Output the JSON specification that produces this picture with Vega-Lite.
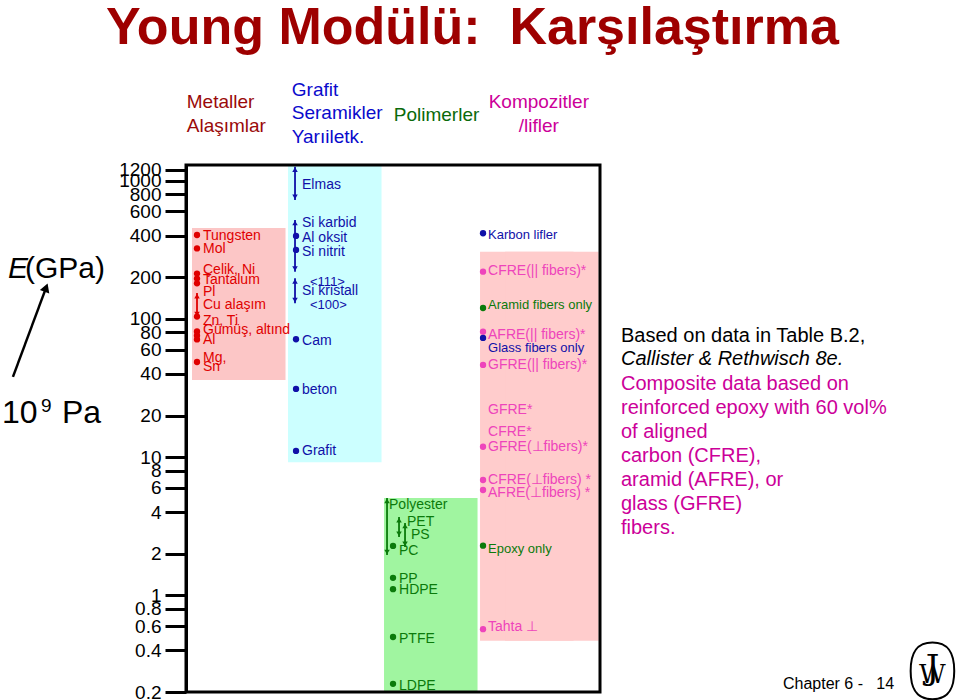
{
"$schema": "https://vega.github.io/schema/vega-lite/v6.json",
"width": 414, "height": 527,
"autosize": {"type": "none"},
"padding": {"left": 186, "top": 165, "right": 360, "bottom": 8},
"background": "white",
"config": {"view": {"stroke": null}, "font": "Liberation Sans", "text": {"font": "Liberation Sans"}},
"data": {"values": [{}]},
"datasets": {
 "boxes": [
  {"group": "Metaller", "lo": 36.2, "hi": 456},
  {"group": "Seramikler", "lo": 9.2, "hi": 1300},
  {"group": "Polimerler", "lo": 0.2, "hi": 5.07},
  {"group": "Kompozitler", "lo": 0.47, "hi": 307}
 ],
 "ranges": [
  {"group": "Metaller", "cls": "metal", "name": "Cu alaşım", "lo": 103, "hi": 154, "lane": 0},
  {"group": "Seramikler", "cls": "ceramic", "name": "Elmas", "lo": 726, "hi": 1265, "lane": 0},
  {"group": "Seramikler", "cls": "ceramic", "name": "Si karbid", "lo": 220, "hi": 520, "lane": 0},
  {"group": "Seramikler", "cls": "ceramic", "name": "Si kristall", "lo": 130, "hi": 197, "lane": 0},
  {"group": "Polimerler", "cls": "polymer", "name": "Polyester", "lo": 1.96, "hi": 5.07, "lane": -1},
  {"group": "Polimerler", "cls": "polymer", "name": "PET", "lo": 2.65, "hi": 3.69, "lane": 1},
  {"group": "Polimerler", "cls": "polymer", "name": "PS", "lo": 2.24, "hi": 3.34, "lane": 2}
 ],
 "points": [
  {"group": "Metaller", "cls": "metal", "name": "Tungsten", "E": 405},
  {"group": "Metaller", "cls": "metal", "name": "Mol", "E": 324},
  {"group": "Metaller", "cls": "metal", "name": "Çelik, Ni", "E": 213},
  {"group": "Metaller", "cls": "metal", "name": "Tantalum", "E": 196},
  {"group": "Metaller", "cls": "metal", "name": "Pl", "E": 181},
  {"group": "Metaller", "cls": "metal", "name": "Zn, Ti", "E": 104},
  {"group": "Metaller", "cls": "metal", "name": "Gümüş", "E": 81.2},
  {"group": "Metaller", "cls": "metal", "name": "Altın", "E": 75.9},
  {"group": "Metaller", "cls": "metal", "name": "Al", "E": 71.1},
  {"group": "Metaller", "cls": "metal", "name": "Mg, Sn", "E": 48.8},
  {"group": "Seramikler", "cls": "ceramic", "name": "Al oksit", "E": 399},
  {"group": "Seramikler", "cls": "ceramic", "name": "Si nitrit", "E": 316},
  {"group": "Seramikler", "cls": "ceramic", "name": "Cam", "E": 71.3},
  {"group": "Seramikler", "cls": "ceramic", "name": "beton", "E": 31.2},
  {"group": "Seramikler", "cls": "ceramic", "name": "Grafit", "E": 11.1},
  {"group": "Polimerler", "cls": "polymer", "name": "PC", "E": 2.28},
  {"group": "Polimerler", "cls": "polymer", "name": "PP", "E": 1.34},
  {"group": "Polimerler", "cls": "polymer", "name": "HDPE", "E": 1.11},
  {"group": "Polimerler", "cls": "polymer", "name": "PTFE", "E": 0.5},
  {"group": "Polimerler", "cls": "polymer", "name": "LDPE", "E": 0.229},
  {"group": "Kompozitler", "cls": "ceramic", "name": "Karbon lifler", "E": 417},
  {"group": "Kompozitler", "cls": "composite", "name": "CFRE par", "E": 220},
  {"group": "Kompozitler", "cls": "polymer", "name": "Aramid fibers", "E": 120},
  {"group": "Kompozitler", "cls": "composite", "name": "AFRE par", "E": 80.9},
  {"group": "Kompozitler", "cls": "ceramic", "name": "Glass fibers", "E": 72.9},
  {"group": "Kompozitler", "cls": "composite", "name": "GFRE par", "E": 46.5},
  {"group": "Kompozitler", "cls": "composite", "name": "GFRE perp", "E": 11.9},
  {"group": "Kompozitler", "cls": "composite", "name": "CFRE perp", "E": 6.84},
  {"group": "Kompozitler", "cls": "composite", "name": "AFRE perp", "E": 5.79},
  {"group": "Kompozitler", "cls": "polymer", "name": "Epoxy", "E": 2.29},
  {"group": "Kompozitler", "cls": "composite", "name": "Tahta", "E": 0.57}
 ],
 "labels": [
  {"group": "Metaller", "cls": "metal", "text": "Tungsten", "E": 399, "kind": "main", "indent": 0},
  {"group": "Metaller", "cls": "metal", "text": "Mol", "E": 321, "kind": "main", "indent": 0},
  {"group": "Metaller", "cls": "metal", "text": "Çelik, Ni", "E": 226, "kind": "main", "indent": 0},
  {"group": "Metaller", "cls": "metal", "text": "Tantalum", "E": 190, "kind": "main", "indent": 0},
  {"group": "Metaller", "cls": "metal", "text": "Pl", "E": 157, "kind": "main", "indent": 0},
  {"group": "Metaller", "cls": "metal", "text": "Cu alaşım", "E": 126, "kind": "main", "indent": 0},
  {"group": "Metaller", "cls": "metal", "text": "Zn, Ti", "E": 96.7, "kind": "main", "indent": 0},
  {"group": "Metaller", "cls": "metal", "text": "Gümüş, altınd", "E": 82.6, "kind": "main", "indent": 0},
  {"group": "Metaller", "cls": "metal", "text": "Al", "E": 69.9, "kind": "main", "indent": 0},
  {"group": "Metaller", "cls": "metal", "text": "Mg,", "E": 52.2, "kind": "main", "indent": 0},
  {"group": "Metaller", "cls": "metal", "text": "Sn", "E": 44.9, "kind": "main", "indent": 0},
  {"group": "Seramikler", "cls": "ceramic", "text": "Elmas", "E": 933, "kind": "main", "indent": 0},
  {"group": "Seramikler", "cls": "ceramic", "text": "Si karbid", "E": 498, "kind": "main", "indent": 0},
  {"group": "Seramikler", "cls": "ceramic", "text": "Al oksit", "E": 384, "kind": "main", "indent": 0},
  {"group": "Seramikler", "cls": "ceramic", "text": "Si nitrit", "E": 307, "kind": "main", "indent": 0},
  {"group": "Seramikler", "cls": "ceramic", "text": "<111>", "E": 186, "kind": "small", "indent": 2},
  {"group": "Seramikler", "cls": "ceramic", "text": "Si kristall", "E": 160, "kind": "main", "indent": 0},
  {"group": "Seramikler", "cls": "ceramic", "text": "<100>", "E": 126, "kind": "small", "indent": 2},
  {"group": "Seramikler", "cls": "ceramic", "text": "Cam", "E": 69.7, "kind": "main", "indent": 0},
  {"group": "Seramikler", "cls": "ceramic", "text": "beton", "E": 30.6, "kind": "main", "indent": 0},
  {"group": "Seramikler", "cls": "ceramic", "text": "Grafit", "E": 11.1, "kind": "main", "indent": 0},
  {"group": "Polimerler", "cls": "polymer", "text": "Polyester", "E": 4.51, "kind": "main", "indent": -2.5},
  {"group": "Polimerler", "cls": "polymer", "text": "PET", "E": 3.42, "kind": "main", "indent": 2},
  {"group": "Polimerler", "cls": "polymer", "text": "PS", "E": 2.74, "kind": "main", "indent": 3},
  {"group": "Polimerler", "cls": "polymer", "text": "PC", "E": 2.11, "kind": "main", "indent": 0},
  {"group": "Polimerler", "cls": "polymer", "text": "PP", "E": 1.31, "kind": "main", "indent": 0},
  {"group": "Polimerler", "cls": "polymer", "text": "HDPE", "E": 1.09, "kind": "main", "indent": 0},
  {"group": "Polimerler", "cls": "polymer", "text": "PTFE", "E": 0.48, "kind": "main", "indent": 0},
  {"group": "Polimerler", "cls": "polymer", "text": "LDPE", "E": 0.221, "kind": "main", "indent": 0},
  {"group": "Kompozitler", "cls": "ceramic", "text": "Karbon  lifler", "E": 405, "kind": "small", "indent": 0},
  {"group": "Kompozitler", "cls": "composite", "text": "CFRE(|| fibers)*", "E": 223, "kind": "main", "indent": 0},
  {"group": "Kompozitler", "cls": "polymer", "text": "Aramid fibers only", "E": 126, "kind": "small", "indent": 0},
  {"group": "Kompozitler", "cls": "composite", "text": "AFRE(|| fibers)*", "E": 76.6, "kind": "main", "indent": 0},
  {"group": "Kompozitler", "cls": "ceramic", "text": "Glass fibers only", "E": 62, "kind": "small", "indent": 0},
  {"group": "Kompozitler", "cls": "composite", "text": "GFRE(|| fibers)*", "E": 46.5, "kind": "main", "indent": 0},
  {"group": "Kompozitler", "cls": "composite", "text": "GFRE*", "E": 22, "kind": "main", "indent": 0},
  {"group": "Kompozitler", "cls": "composite", "text": "CFRE*", "E": 15.1, "kind": "main", "indent": 0},
  {"group": "Kompozitler", "cls": "composite", "text": "GFRE(⊥fibers)*", "E": 11.9, "kind": "main", "indent": 0},
  {"group": "Kompozitler", "cls": "composite", "text": "CFRE(⊥fibers) *", "E": 6.84, "kind": "main", "indent": 0},
  {"group": "Kompozitler", "cls": "composite", "text": "AFRE(⊥fibers) *", "E": 5.54, "kind": "main", "indent": 0},
  {"group": "Kompozitler", "cls": "polymer", "text": "Epoxy only", "E": 2.16, "kind": "small", "indent": 0},
  {"group": "Kompozitler", "cls": "composite", "text": "Tahta  ⊥", "E": 0.59, "kind": "main", "indent": 0}
 ]
},
"layer": [
 {"layer": [
  {"data": {"name": "boxes"}, "mark": {"type": "rect"},
   "encoding": {
    "x": {"field": "group", "type": "nominal", "scale": {"domain": ["Metaller","Seramikler","Polimerler","Kompozitler"], "paddingInner": 0.026, "paddingOuter": 0.169, "align": 0.185}, "axis": null},
    "y": {"field": "lo", "type": "quantitative", "scale": {"type": "log", "domain": [0.2, 1300]},
      "axis": {"values": [0.2,0.4,0.6,0.8,1,2,4,6,8,10,20,40,60,80,100,200,400,600,800,1000,1200], "format": "~g", "tickSize": 21, "tickWidth": 3, "tickColor": "black", "domainColor": "black", "domainWidth": 3, "labelFontSize": 19, "labelFont": "Liberation Sans", "labelColor": "black", "labelPadding": 4, "labelOverlap": false, "labelFlush": false, "grid": false, "title": null, "zindex": 1}},
    "y2": {"field": "hi"},
    "fill": {"field": "group", "type": "nominal", "scale": {"domain": ["Metaller","Seramikler","Polimerler","Kompozitler"], "range": ["#FCC6C6","#CCFFFF","#A0F5A0","#FFCCCC"]}, "legend": null}
   }},
  {"data": {"name": "boxes"}, "transform": [{"filter": "datum.group === 'Kompozitler'"}], "mark": {"type": "rect", "xOffset": 25},
   "encoding": {
    "x": {"field": "group", "type": "nominal", "scale": {"domain": ["Metaller","Seramikler","Polimerler","Kompozitler"], "paddingInner": 0.026, "paddingOuter": 0.169, "align": 0.185}, "axis": null},
    "y": {"field": "lo", "type": "quantitative", "scale": {"type": "log", "domain": [0.2, 1300]}},
    "y2": {"field": "hi"},
    "fill": {"field": "group", "type": "nominal", "scale": {"domain": ["Metaller","Seramikler","Polimerler","Kompozitler"], "range": ["#FCC6C6","#CCFFFF","#A0F5A0","#FFCCCC"]}, "legend": null}
   }},
  {"data": {"name": "ranges"},
   "mark": {"type": "rule", "strokeWidth": 1.8, "xOffset": {"expr": "(datum.group === 'Metaller' ? 5 : datum.group === 'Seramikler' ? 7 : datum.group === 'Polimerler' ? 9 : 3) + 6 * datum.lane"}},
   "encoding": {
    "x": {"field": "group", "type": "nominal", "bandPosition": 0, "scale": {"domain": ["Metaller","Seramikler","Polimerler","Kompozitler"], "paddingInner": 0.026, "paddingOuter": 0.169, "align": 0.185}, "axis": null},
    "y": {"field": "lo", "type": "quantitative", "scale": {"type": "log", "domain": [0.2, 1300]}},
    "y2": {"field": "hi"},
    "color": {"field": "cls", "type": "nominal", "scale": {"domain": ["metal","ceramic","polymer","composite"], "range": ["#E00000","#1010A8","#0B7A0B","#EE44BB"]}, "legend": null}
   }},
  {"data": {"name": "ranges"},
   "mark": {"type": "point", "shape": "triangle-up", "filled": true, "opacity": 1, "size": 30, "yOffset": 3, "xOffset": {"expr": "(datum.group === 'Metaller' ? 5 : datum.group === 'Seramikler' ? 7 : datum.group === 'Polimerler' ? 9 : 3) + 6 * datum.lane"}},
   "encoding": {
    "x": {"field": "group", "type": "nominal", "bandPosition": 0, "scale": {"domain": ["Metaller","Seramikler","Polimerler","Kompozitler"], "paddingInner": 0.026, "paddingOuter": 0.169, "align": 0.185}, "axis": null},
    "y": {"field": "hi", "type": "quantitative", "scale": {"type": "log", "domain": [0.2, 1300]}},
    "color": {"field": "cls", "type": "nominal", "scale": {"domain": ["metal","ceramic","polymer","composite"], "range": ["#E00000","#1010A8","#0B7A0B","#EE44BB"]}, "legend": null}
   }},
  {"data": {"name": "ranges"},
   "mark": {"type": "point", "shape": "triangle-down", "filled": true, "opacity": 1, "size": 30, "yOffset": -3, "xOffset": {"expr": "(datum.group === 'Metaller' ? 5 : datum.group === 'Seramikler' ? 7 : datum.group === 'Polimerler' ? 9 : 3) + 6 * datum.lane"}},
   "encoding": {
    "x": {"field": "group", "type": "nominal", "bandPosition": 0, "scale": {"domain": ["Metaller","Seramikler","Polimerler","Kompozitler"], "paddingInner": 0.026, "paddingOuter": 0.169, "align": 0.185}, "axis": null},
    "y": {"field": "lo", "type": "quantitative", "scale": {"type": "log", "domain": [0.2, 1300]}},
    "color": {"field": "cls", "type": "nominal", "scale": {"domain": ["metal","ceramic","polymer","composite"], "range": ["#E00000","#1010A8","#0B7A0B","#EE44BB"]}, "legend": null}
   }},
  {"data": {"name": "points"},
   "mark": {"type": "point", "shape": "circle", "filled": true, "opacity": 1, "size": 40, "xOffset": {"expr": "datum.group === 'Metaller' ? 5 : datum.group === 'Seramikler' ? 8 : datum.group === 'Polimerler' ? 9 : 3"}},
   "encoding": {
    "x": {"field": "group", "type": "nominal", "bandPosition": 0, "scale": {"domain": ["Metaller","Seramikler","Polimerler","Kompozitler"], "paddingInner": 0.026, "paddingOuter": 0.169, "align": 0.185}, "axis": null},
    "y": {"field": "E", "type": "quantitative", "scale": {"type": "log", "domain": [0.2, 1300]}},
    "color": {"field": "cls", "type": "nominal", "scale": {"domain": ["metal","ceramic","polymer","composite"], "range": ["#E00000","#1010A8","#0B7A0B","#EE44BB"]}, "legend": null}
   }},
  {"data": {"name": "labels"},
   "mark": {"type": "text", "align": "left", "baseline": "middle", "font": "Liberation Sans", "dx": {"expr": "(datum.group === 'Metaller' ? 11 : datum.group === 'Seramikler' ? 14 : datum.group === 'Polimerler' ? 15 : 8) + 4 * datum.indent"}},
   "encoding": {
    "x": {"field": "group", "type": "nominal", "bandPosition": 0, "scale": {"domain": ["Metaller","Seramikler","Polimerler","Kompozitler"], "paddingInner": 0.026, "paddingOuter": 0.169, "align": 0.185}, "axis": null},
    "y": {"field": "E", "type": "quantitative", "scale": {"type": "log", "domain": [0.2, 1300]}},
    "text": {"field": "text"},
    "size": {"field": "kind", "type": "ordinal", "scale": {"domain": ["main","small"], "range": [14, 13]}, "legend": null},
    "color": {"field": "cls", "type": "nominal", "scale": {"domain": ["metal","ceramic","polymer","composite"], "range": ["#E00000","#1010A8","#0B7A0B","#EE44BB"]}, "legend": null}
   }},
  {"mark": {"type": "text", "text": ["Metaller", "Alaşımlar"], "lineHeight": 24, "fontSize": 19, "color": "#9A0A0A", "align": "left", "baseline": "middle", "dx": -52},
   "encoding": {
    "x": {"datum": "Metaller", "type": "nominal", "scale": {"domain": ["Metaller","Seramikler","Polimerler","Kompozitler"], "paddingInner": 0.026, "paddingOuter": 0.169, "align": 0.185}, "axis": null},
    "y": {"datum": 3718, "type": "quantitative", "scale": {"type": "log", "domain": [0.2, 1300]}}
   }},
  {"mark": {"type": "text", "text": ["Grafit", "Seramikler", "Yarıiletk."], "lineHeight": 23.5, "fontSize": 19, "color": "#0A0ACC", "align": "left", "baseline": "middle", "dx": -43},
   "encoding": {
    "x": {"datum": "Seramikler", "type": "nominal", "scale": {"domain": ["Metaller","Seramikler","Polimerler","Kompozitler"], "paddingInner": 0.026, "paddingOuter": 0.169, "align": 0.185}, "axis": null},
    "y": {"datum": 4540, "type": "quantitative", "scale": {"type": "log", "domain": [0.2, 1300]}}
   }},
  {"mark": {"type": "text", "text": "Polimerler", "fontSize": 19, "color": "#0A6A0A", "align": "left", "baseline": "middle", "dx": -37},
   "encoding": {
    "x": {"datum": "Polimerler", "type": "nominal", "scale": {"domain": ["Metaller","Seramikler","Polimerler","Kompozitler"], "paddingInner": 0.026, "paddingOuter": 0.169, "align": 0.185}, "axis": null},
    "y": {"datum": 2993, "type": "quantitative", "scale": {"type": "log", "domain": [0.2, 1300]}}
   }},
  {"mark": {"type": "text", "text": ["Kompozitler", "/lifler"], "lineHeight": 24, "fontSize": 19, "color": "#CC0099", "align": "center", "baseline": "middle", "dx": 12},
   "encoding": {
    "x": {"datum": "Kompozitler", "type": "nominal", "scale": {"domain": ["Metaller","Seramikler","Polimerler","Kompozitler"], "paddingInner": 0.026, "paddingOuter": 0.169, "align": 0.185}, "axis": null},
    "y": {"datum": 3718, "type": "quantitative", "scale": {"type": "log", "domain": [0.2, 1300]}}
   }}
 ]},
 {"layer": [
  {"mark": {"type": "rect", "fillOpacity": 0, "stroke": "black", "strokeWidth": 3},
   "encoding": {
    "x": {"datum": 0, "type": "quantitative", "scale": {"domain": [0, 1]}, "axis": null},
    "x2": {"datum": 1},
    "y": {"datum": 0.2, "type": "quantitative", "scale": {"type": "log", "domain": [0.2, 1300]}},
    "y2": {"datum": 1300}
   }},
  {"mark": {"type": "text", "text": "Young Modülü:\u00a0 Karşılaştırma", "fontSize": 52, "fontWeight": "bold", "color": "#9E0000", "align": "center", "baseline": "alphabetic"},
   "encoding": {
    "x": {"datum": 0.692, "type": "quantitative", "scale": {"domain": [0, 1]}, "axis": null},
    "y": {"datum": 9770, "type": "quantitative", "scale": {"type": "log", "domain": [0.2, 1300]}}
   }},
  {"mark": {"type": "text", "text": "E", "fontSize": 30, "fontStyle": "italic", "color": "black", "align": "left", "baseline": "alphabetic"},
   "encoding": {
    "x": {"datum": -0.43, "type": "quantitative", "scale": {"domain": [0, 1]}, "axis": null},
    "y": {"datum": 198, "type": "quantitative", "scale": {"type": "log", "domain": [0.2, 1300]}}
   }},
  {"mark": {"type": "text", "text": "(GPa)", "fontSize": 30, "color": "black", "align": "left", "baseline": "alphabetic"},
   "encoding": {
    "x": {"datum": -0.389, "type": "quantitative", "scale": {"domain": [0, 1]}, "axis": null},
    "y": {"datum": 198, "type": "quantitative", "scale": {"type": "log", "domain": [0.2, 1300]}}
   }},
  {"mark": {"type": "text", "text": "10", "fontSize": 32, "color": "black", "align": "left", "baseline": "alphabetic"},
   "encoding": {
    "x": {"datum": -0.4444, "type": "quantitative", "scale": {"domain": [0, 1]}, "axis": null},
    "y": {"datum": 17.7, "type": "quantitative", "scale": {"type": "log", "domain": [0.2, 1300]}}
   }},
  {"mark": {"type": "text", "text": "9", "fontSize": 19, "color": "black", "align": "left", "baseline": "alphabetic"},
   "encoding": {
    "x": {"datum": -0.3502, "type": "quantitative", "scale": {"domain": [0, 1]}, "axis": null},
    "y": {"datum": 21.2, "type": "quantitative", "scale": {"type": "log", "domain": [0.2, 1300]}}
   }},
  {"mark": {"type": "text", "text": "Pa", "fontSize": 32, "color": "black", "align": "left", "baseline": "alphabetic"},
   "encoding": {
    "x": {"datum": -0.2995, "type": "quantitative", "scale": {"domain": [0, 1]}, "axis": null},
    "y": {"datum": 17.7, "type": "quantitative", "scale": {"type": "log", "domain": [0.2, 1300]}}
   }},
  {"mark": {"type": "rule", "color": "black", "strokeWidth": 2.5},
   "encoding": {
    "x": {"datum": -0.418, "type": "quantitative", "scale": {"domain": [0, 1]}, "axis": null},
    "x2": {"datum": -0.3379},
    "y": {"datum": 38.1, "type": "quantitative", "scale": {"type": "log", "domain": [0.2, 1300]}},
    "y2": {"datum": 168.5}
   }},
  {"mark": {"type": "point", "shape": "triangle-up", "filled": true, "opacity": 1, "color": "black", "size": 100, "angle": 20.4},
   "encoding": {
    "x": {"datum": -0.3379, "type": "quantitative", "scale": {"domain": [0, 1]}, "axis": null},
    "y": {"datum": 168.5, "type": "quantitative", "scale": {"type": "log", "domain": [0.2, 1300]}}
   }},
  {"mark": {"type": "text", "text": "Based on data in Table B.2,", "fontSize": 20, "color": "black", "align": "left", "baseline": "alphabetic"},
   "encoding": {
    "x": {"datum": 1.0507, "type": "quantitative", "scale": {"domain": [0, 1]}, "axis": null},
    "y": {"datum": 68.2, "type": "quantitative", "scale": {"type": "log", "domain": [0.2, 1300]}}
   }},
  {"mark": {"type": "text", "text": "Callister & Rethwisch 8e.", "fontSize": 20, "fontStyle": "italic", "color": "black", "align": "left", "baseline": "alphabetic"},
   "encoding": {
    "x": {"datum": 1.0507, "type": "quantitative", "scale": {"domain": [0, 1]}, "axis": null},
    "y": {"datum": 46.5, "type": "quantitative", "scale": {"type": "log", "domain": [0.2, 1300]}}
   }},
  {"mark": {"type": "text", "text": ["Composite data based on", "reinforced epoxy with 60 vol%", "of aligned", "carbon (CFRE),", "aramid (AFRE), or", "glass (GFRE)", "fibers."], "lineHeight": 24, "fontSize": 20, "color": "#CC0099", "align": "left", "baseline": "alphabetic"},
   "encoding": {
    "x": {"datum": 1.0507, "type": "quantitative", "scale": {"domain": [0, 1]}, "axis": null},
    "y": {"datum": 30.6, "type": "quantitative", "scale": {"type": "log", "domain": [0.2, 1300]}}
   }},
  {"mark": {"type": "text", "text": "Chapter 6 -\u00a0\u00a0 14", "fontSize": 16, "color": "black", "align": "left", "baseline": "alphabetic"},
   "encoding": {
    "x": {"datum": 1.442, "type": "quantitative", "scale": {"domain": [0, 1]}, "axis": null},
    "y": {"datum": 0.21, "type": "quantitative", "scale": {"type": "log", "domain": [0.2, 1300]}}
   }},
  {"mark": {"type": "point", "shape": "M0,-1.3C0.75,-1.3,1,-0.8,1,0C1,0.8,0.75,1.3,0,1.3C-0.75,1.3,-1,0.8,-1,0C-1,-0.8,-0.75,-1.3,0,-1.3Z", "filled": false, "stroke": "black", "strokeWidth": 2, "opacity": 1, "size": 1900},
   "encoding": {
    "x": {"datum": 1.803, "type": "quantitative", "scale": {"domain": [0, 1]}, "axis": null},
    "y": {"datum": 0.284, "type": "quantitative", "scale": {"type": "log", "domain": [0.2, 1300]}}
   }},
  {"mark": {"type": "text", "text": "W", "font": "DejaVu Serif", "fontSize": 26, "color": "black", "align": "center", "baseline": "middle", "dy": 4},
   "encoding": {
    "x": {"datum": 1.803, "type": "quantitative", "scale": {"domain": [0, 1]}, "axis": null},
    "y": {"datum": 0.284, "type": "quantitative", "scale": {"type": "log", "domain": [0.2, 1300]}}
   }},
  {"mark": {"type": "text", "text": "J", "font": "DejaVu Serif", "fontSize": 34, "color": "black", "align": "center", "baseline": "middle", "dy": -2},
   "encoding": {
    "x": {"datum": 1.803, "type": "quantitative", "scale": {"domain": [0, 1]}, "axis": null},
    "y": {"datum": 0.284, "type": "quantitative", "scale": {"type": "log", "domain": [0.2, 1300]}}
   }}
 ]}
],
"resolve": {"scale": {"x": "independent"}}
}
